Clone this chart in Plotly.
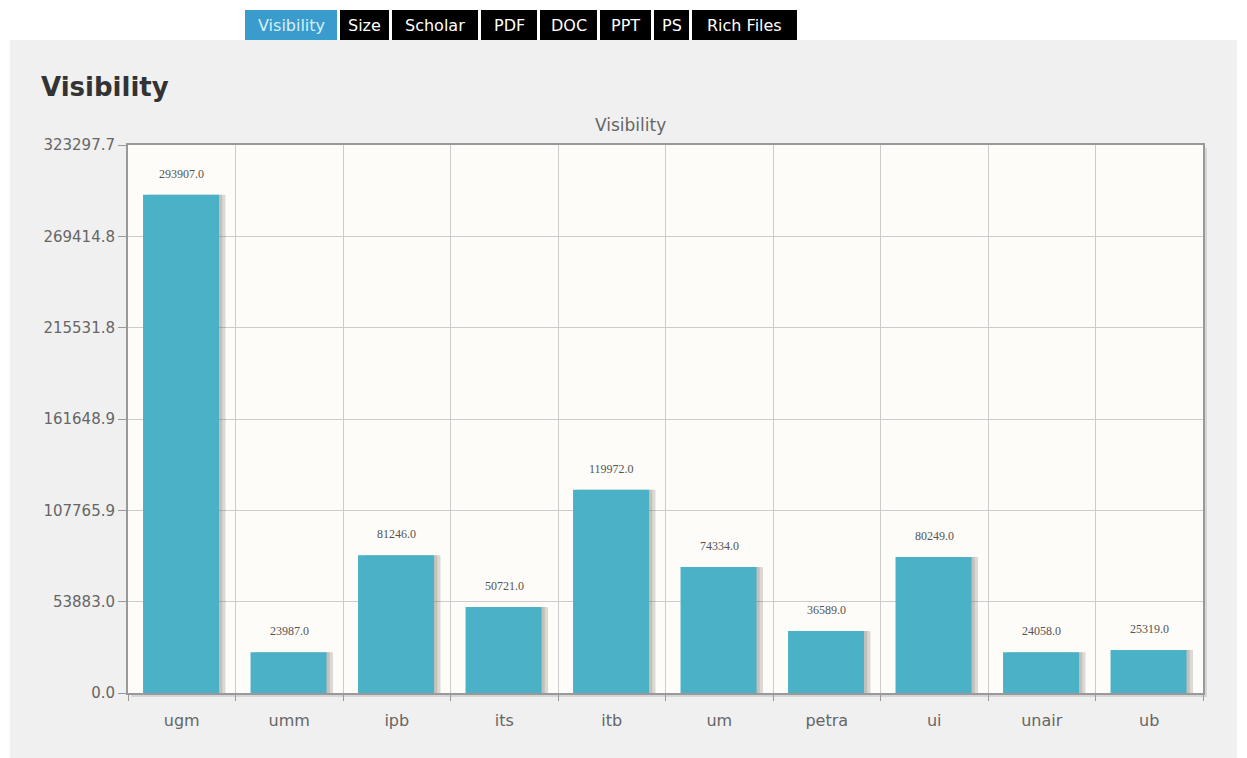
import plotly.graph_objects as go

categories = ["ugm", "umm", "ipb", "its", "itb", "um", "petra", "ui", "unair", "ub"]
visibility = [293907.0, 23987.0, 81246.0, 50721.0, 119972.0, 74334.0, 36589.0, 80249.0, 24058.0, 25319.0]
y_ticks = [0.0, 53883.0, 107765.9, 161648.9, 215531.8, 269414.8, 323297.7]
y_tick_labels = ["0.0", "53883.0", "107765.9", "161648.9", "215531.8", "269414.8", "323297.7"]
tabs = ["Visibility", "Size", "Scholar", "PDF", "DOC", "PPT", "PS", "Rich Files"]
tab_px = [(245, 337), (340, 389), (392, 478), (481, 537), (540, 597), (600, 651), (654, 689), (692, 797)]

OFF = 8  # page body margin
W, H = 1247 - OFF, 758
PL, PR, PT, PB = 128, 1203, 145, 693  # plot area in page pixels
L, T = PL - OFF, PT - OFF
R, B = W - (PR - OFF), H - (PB - OFF)
PW, PH = PR - PL, PB - PT

def px_x(x):
    return (x - PL) / PW

def px_y(y):
    return (PB - y) / PH

fig = go.Figure()

# bar shadows
fig.add_trace(go.Bar(
    x=categories, y=visibility, offset=-0.30, width=0.707,
    marker=dict(color="rgba(90,80,70,0.20)", line=dict(width=0)),
    hoverinfo="skip", showlegend=False,
))
fig.add_trace(go.Bar(
    x=categories, y=visibility, offset=-0.33, width=0.707,
    marker=dict(color="rgba(90,80,70,0.18)", line=dict(width=0)),
    hoverinfo="skip", showlegend=False,
))
fig.add_trace(go.Bar(
    x=categories, y=visibility, offset=-0.36, width=0.707,
    marker=dict(color="#4bb1c6", line=dict(width=0)),
    showlegend=False, name="Visibility",
))

for c, v in zip(categories, visibility):
    fig.add_annotation(x=c, y=v, xref="x", yref="y", text=f"{v:.1f}", showarrow=False,
                       yshift=21, font=dict(family="Liberation Serif", size=12, color="#555"))

shapes = []
shapes.append(dict(type="rect", xref="paper", yref="paper", x0=px_x(10), x1=px_x(1237),
                   y0=px_y(790), y1=px_y(40), fillcolor="#f0f0f0", line=dict(width=0), layer="below"))
shapes.append(dict(type="rect", xref="paper", yref="paper", x0=px_x(131), x1=px_x(1207),
                   y0=px_y(697), y1=px_y(148), fillcolor="#d6d6d6", line=dict(width=0), layer="below"))
shapes.append(dict(type="rect", xref="paper", yref="paper", x0=0, x1=1, y0=0, y1=1,
                   fillcolor="#fdfcf8", line=dict(width=0), layer="below"))
for name, (a, b) in zip(tabs, tab_px):
    shapes.append(dict(type="rect", xref="paper", yref="paper", x0=px_x(a), x1=px_x(b),
                       y0=px_y(40), y1=px_y(10),
                       fillcolor="#3a9ccd" if name == "Visibility" else "#000000",
                       line=dict(width=0), layer="above"))
    fig.add_annotation(xref="paper", yref="paper", x=px_x((a + b) / 2), y=px_y(25),
                       text=name, showarrow=False, xanchor="center", yanchor="middle",
                       font=dict(family="DejaVu Sans", size=16,
                                 color="#d8eef8" if name == "Visibility" else "#ffffff"))

fig.add_annotation(xref="paper", yref="paper", x=px_x(39), y=px_y(87), text="<b>Visibility</b>",
                   showarrow=False, xanchor="left", yanchor="middle",
                   font=dict(family="DejaVu Sans", size=26, color="#333333"))
fig.add_annotation(xref="paper", yref="paper", x=px_x(630), y=px_y(125), text="Visibility",
                   showarrow=False, xanchor="center", yanchor="middle",
                   font=dict(family="DejaVu Sans", size=17, color="#666666"))

fig.update_layout(
    width=W, height=H, margin=dict(l=L, r=R, t=T, b=B),
    paper_bgcolor="#ffffff", plot_bgcolor="rgba(0,0,0,0)",
    barmode="overlay", shapes=shapes, showlegend=False,
    xaxis=dict(type="category", tickson="boundaries", showgrid=True, gridcolor="#cccccc",
               gridwidth=1, ticks="outside", ticklen=6, tickcolor="#999999",
               showline=True, linecolor="#999999", linewidth=2, mirror=True,
               ticklabelstandoff=12,
               tickfont=dict(family="DejaVu Sans", size=16, color="#666666"),
               range=[-0.5, len(categories) - 0.5]),
    yaxis=dict(range=[0, y_ticks[-1]], tickvals=y_ticks, ticktext=y_tick_labels,
               showgrid=True, gridcolor="#cccccc", gridwidth=1, zeroline=False,
               ticks="outside", ticklen=8, tickcolor="#999999",
               showline=True, linecolor="#999999", linewidth=2, mirror=True,
               tickfont=dict(family="DejaVu Sans", size=15, color="#666666")),
)

fig.write_html("out.html")
